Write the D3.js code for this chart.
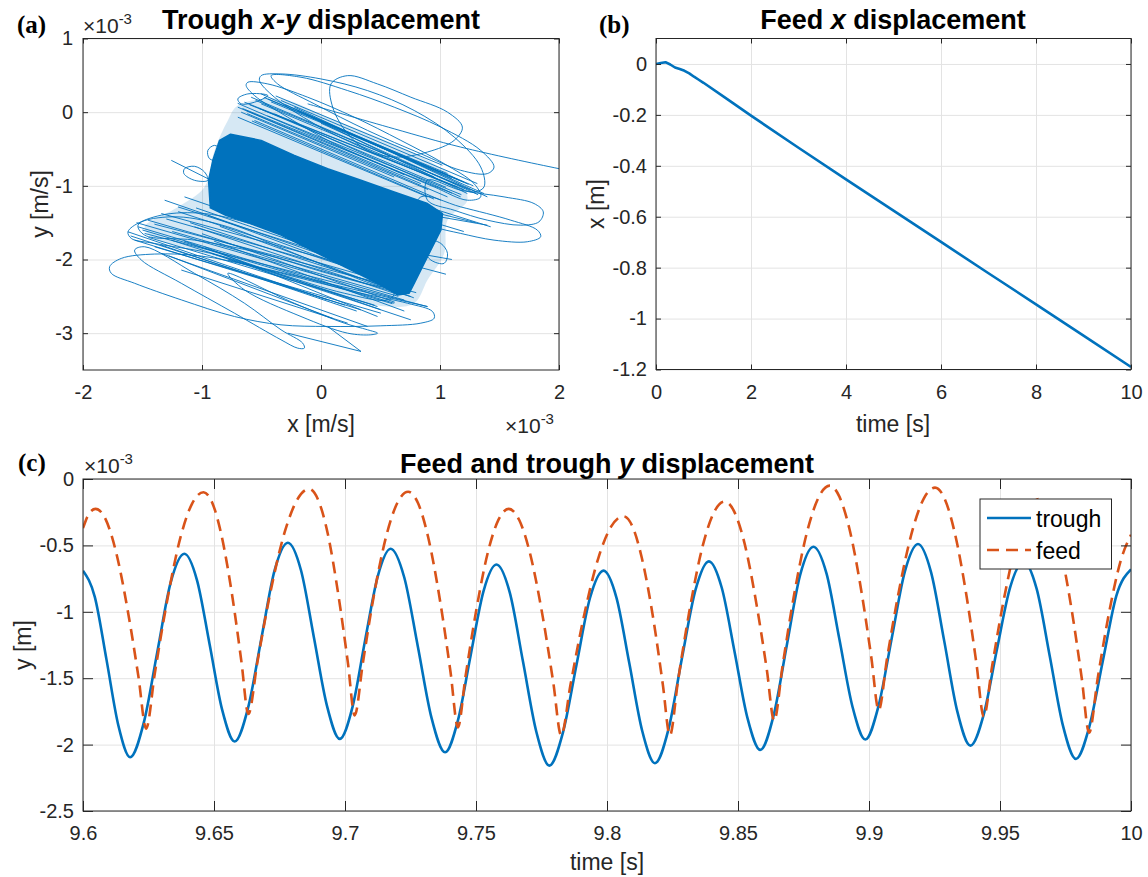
<!DOCTYPE html>
<html><head><meta charset="utf-8">
<script src="https://cdn.jsdelivr.net/npm/d3@7"></script>
<style>
body{margin:0;background:#fff;}
svg{display:block;}
</style></head><body>
<svg id="chart" width="1148" height="877"></svg>
<script>
// ---------------- DATA ----------------
// Panel (a): trough x-y trajectory (units 1e-3 m/s)
const aXTicks = [-2, -1, 0, 1, 2];
const aXTickLabels = ["-2", "-1", "0", "1", "2"];
const aYTicks = [-3, -2, -1, 0, 1];
const aYTickLabels = ["-3", "-2", "-1", "0", "1"];

// saturated (solid) core of the trajectory cloud
const xyCore = [[-0.853,-0.383],[-0.760,-0.300],[-0.503,-0.383],[-0.224,-0.586],[0.056,-0.767],[0.336,-0.925],[0.615,-1.083],[0.895,-1.240],[1.021,-1.376],[1.007,-1.601],[0.937,-1.827],[0.853,-2.097],[0.783,-2.323],[0.741,-2.458],[0.643,-2.481],[0.503,-2.346],[0.224,-2.120],[-0.056,-1.894],[-0.336,-1.669],[-0.615,-1.500],[-0.800,-1.400],[-0.930,-1.300],[-0.945,-0.925],[-0.909,-0.654]];
// half-dense hatched band around the core
const xyHatchZone = [[-0.699,0.090],[-0.336,0.180],[0.056,-0.068],[0.475,-0.338],[0.895,-0.654],[1.174,-0.970],[1.230,-1.195],[1.063,-1.466],[1.035,-1.917],[0.895,-2.278],[0.783,-2.594],[0.559,-2.639],[0.056,-2.458],[-0.503,-2.143],[-1.063,-1.872],[-1.426,-1.691],[-1.482,-1.556],[-1.202,-1.286],[-0.979,-1.015],[-0.895,-0.519],[-0.783,-0.113]];
// individual streaks [x1, y1, x2, y2]
const xyStreaks = [
 [-0.699,0.068,1.063,-1.150],[-0.643,0.135,1.146,-1.015],[-0.587,0.203,1.258,-1.060],[-0.503,0.248,1.370,-1.105],
 [-0.699,-0.068,0.895,-1.150],[-0.447,0.180,1.063,-0.834],[-0.336,0.158,1.314,-0.970],[-0.671,0,0.615,-0.880],
 [-0.224,0.068,1.398,-1.150],[-0.559,-0.113,1.007,-1.195],[-1.538,-1.556,0.615,-2.594],[-1.454,-1.466,0.755,-2.503],
 [-1.342,-1.376,0.783,-2.323],[-1.202,-1.286,0.559,-2.188],[-1.566,-1.737,0.336,-2.684],[-1.398,-1.827,0.503,-2.729],
 [-1.314,-1.195,0.056,-1.962],[-1.147,-1.150,-0.084,-1.737],[-1.482,-1.646,0.895,-2.639],[-1.063,-1.556,0.615,-2.458],
 [-1.622,-1.624,0.056,-2.548],[-0.979,-1.827,0.475,-2.774],[-1.174,-2.143,0.224,-2.864],[-1.342,-1.917,0.391,-2.909],
 [0.895,-1.286,1.426,-1.556],[0.839,-1.376,1.398,-1.534],[-0.629,0.023,0.839,-0.970],[-0.503,0.113,0.951,-0.880],
 [-0.391,-0.023,1.174,-1.150],[-0.084,-0.068,1.230,-1.105],[-0.923,-1.917,0.755,-2.819],[-0.783,-2.007,0.895,-2.639],
 [-1.258,-1.737,0.475,-2.639],
 [-0.66,0.05,1.10,-1.10],[-0.60,0.10,1.20,-1.05],[-0.55,0.16,1.30,-1.08],[-0.48,0.20,1.24,-0.98],
 [-0.42,0.14,1.16,-0.92],[-0.38,0.22,1.02,-0.72],[-0.30,0.10,1.28,-1.00],[-0.20,0.02,1.10,-0.90],
 [-0.62,-0.02,0.90,-1.05],[-0.70,0.12,0.70,-0.85],[-0.52,0.05,1.05,-1.02],[-0.45,-0.05,1.18,-1.12],
 [-0.58,-0.12,0.95,-1.18],[-0.10,-0.05,1.20,-0.95],[0.00,-0.15,1.32,-1.12],
 [-1.55,-1.50,0.70,-2.55],[-1.50,-1.60,0.60,-2.60],[-1.45,-1.70,0.45,-2.62],[-1.40,-1.52,0.80,-2.45],
 [-1.30,-1.45,0.75,-2.40],[-1.25,-1.62,0.65,-2.50],[-1.20,-1.35,0.50,-2.25],[-1.10,-1.50,0.70,-2.45],
 [-1.05,-1.30,0.40,-2.10],[-1.00,-1.65,0.62,-2.58],[-0.95,-1.40,0.55,-2.30],[-1.35,-1.80,0.30,-2.70],
 [-1.15,-1.75,0.50,-2.68],[-0.90,-1.75,0.70,-2.70],[-1.60,-1.68,0.20,-2.62],[-1.28,-1.95,0.10,-2.80],
 [-0.85,-1.55,0.78,-2.52],
 [0.80,-1.30,1.30,-1.50],[0.85,-1.45,1.20,-1.62],[0.70,-2.05,1.05,-2.20],[0.75,-1.90,1.10,-2.00]
];
// visible closed loops
const xyLoops = [
 [[0.084,0.383],[0.224,0.496],[0.475,0.383],[0.755,0.203],[1.063,0],[1.188,-0.203],[1.119,-0.383],[0.895,-0.541],[0.615,-0.609],[0.391,-0.519],[0.224,-0.293],[0.098,0.068]],
 [[-0.503,0.496],[-0.336,0.519],[0,0.451],[0.391,0.293],[0.783,0.023],[1.119,-0.338],[1.342,-0.744],[1.370,-1.015],[1.286,-1.083],[1.063,-0.970],[0.727,-0.744],[0.336,-0.474],[-0.056,-0.158],[-0.391,0.203],[-0.517,0.429]],
 [[-0.615,0.406],[-0.447,0.383],[-0.112,0.203],[0.280,-0.068],[0.671,-0.383],[1.035,-0.699],[1.286,-0.970],[1.342,-1.150],[1.230,-1.195],[0.951,-1.015],[0.559,-0.744],[0.112,-0.429],[-0.280,-0.068],[-0.559,0.226],[-0.629,0.361]],
 [[-0.419,0.496],[-0.168,0.474],[0.224,0.293],[0.615,0.068],[1.007,-0.203],[1.342,-0.519],[1.454,-0.744],[1.398,-0.834],[1.174,-0.789],[0.839,-0.564],[0.391,-0.248],[-0.056,0.113],[-0.364,0.383]],
 [[0.895,-0.925],[1.174,-1.060],[1.538,-1.150],[1.790,-1.240],[1.868,-1.353],[1.832,-1.488],[1.678,-1.534],[1.398,-1.466],[1.119,-1.331],[0.895,-1.195]],
 [[0.839,-1.150],[1.174,-1.286],[1.594,-1.466],[1.818,-1.601],[1.846,-1.691],[1.734,-1.759],[1.454,-1.737],[1.174,-1.646],[0.951,-1.556],[0.783,-1.421]],
 [[-1.776,-2.097],[-1.678,-1.985],[-1.398,-1.926],[-1.007,-1.953],[-0.559,-2.097],[-0.112,-2.278],[0.336,-2.458],[0.727,-2.594],[0.937,-2.706],[0.951,-2.797],[0.839,-2.864],[0.503,-2.900],[0.056,-2.909],[-0.336,-2.887],[-0.727,-2.774],[-1.174,-2.548],[-1.566,-2.323],[-1.762,-2.188]],
 [[-1.482,-1.827],[-1.063,-2.188],[-0.643,-2.594],[-0.336,-2.954],[-0.154,-3.135],[-0.140,-3.203],[-0.196,-3.203],[-0.336,-3.090],[-0.727,-2.729],[-1.174,-2.323],[-1.510,-2.007],[-1.566,-1.872]],
 [[-0.783,-2.188],[-0.224,-2.594],[0.196,-2.864],[0.391,-2.954],[0.475,-3.000],[0.419,-3.022],[0.224,-3.000],[-0.168,-2.774],[-0.643,-2.413]],
 [[-1.622,-1.624],[-1.510,-1.488],[-1.202,-1.421],[-0.783,-1.556],[-0.224,-1.917],[0.336,-2.278],[0.615,-2.458],[0.559,-2.548],[0.196,-2.458],[-0.364,-2.188],[-0.923,-1.917],[-1.398,-1.782],[-1.594,-1.714]],
 [[-1.538,-1.534],[-1.342,-1.398],[-0.979,-1.376],[-0.503,-1.556],[0.056,-1.872],[0.559,-2.188],[0.671,-2.368],[0.503,-2.368],[0.056,-2.188],[-0.503,-1.917],[-1.063,-1.737],[-1.482,-1.669]],
 [[-0.951,-0.519],[-0.895,-0.451],[-0.839,-0.519],[-0.867,-0.654],[-0.937,-0.631]],
 [[-1.147,-0.767],[-1.063,-0.735],[-0.979,-0.812],[-0.951,-0.925],[-1.063,-0.925],[-1.152,-0.834]],
 [[0.895,-1.737],[1.007,-1.782],[1.063,-1.917],[1.035,-2.052],[0.923,-2.007],[0.867,-1.872]],
 [[-0.699,0.180],[-0.615,0.248],[-0.447,0.226],[-0.559,0.135],[-0.671,0.113]]
];
// open tails
const xyTails = [
 [[-0.112,0.113],[0.615,-0.226],[1.174,-0.474],[2.0,-0.767],[2.293,-0.857]],
 [[-1.258,-0.654],[-0.923,-0.925]],
 [[-0.280,-3.000],[0.336,-3.248]],
 [[0.056,-2.909],[0.336,-3.248]]
];

// Panel (b): feed x displacement
const bXTicks = [0, 2, 4, 6, 8, 10];
const bXTickLabels = ["0", "2", "4", "6", "8", "10"];
const bYTicks = [-1.2, -1, -0.8, -0.6, -0.4, -0.2, 0];
const bYTickLabels = ["-1.2", "-1", "-0.8", "-0.6", "-0.4", "-0.2", "0"];
const feedXTime = [0, 0.1, 0.2, 0.3, 0.4, 0.5, 0.6, 0.7, 0.8, 0.9, 1.0, 1.5, 2, 3, 4, 5, 6, 7, 8, 9, 10];
const feedXDisp = [0, 0.004, 0.007, -0.002, -0.014, -0.02, -0.027, -0.037, -0.05, -0.062, -0.074, -0.138, -0.203, -0.329, -0.453, -0.576, -0.699, -0.822, -0.944, -1.067, -1.19];

// Panel (c): y displacement (units 1e-3 m)
const cXTicks = [9.6, 9.65, 9.7, 9.75, 9.8, 9.85, 9.9, 9.95, 10];
const cXTickLabels = ["9.6", "9.65", "9.7", "9.75", "9.8", "9.85", "9.9", "9.95", "10"];
const cYTicks = [-2.5, -2, -1.5, -1, -0.5, 0];
const cYTickLabels = ["-2.5", "-2", "-1.5", "-1", "-0.5", "0"];
const seriesNames = ["trough", "feed"];
const troughT = [9.6,9.6045,9.609,9.6135,9.618,9.6232,9.6284,9.6335,9.6387,9.6435,9.6483,9.6531,9.6579,9.6630,9.6681,9.6731,9.6782,9.6832,9.6881,9.6931,9.698,9.7029,9.7077,9.7126,9.7174,9.7226,9.7278,9.7330,9.7382,9.7431,9.7480,9.7529,9.7578,9.7629,9.7679,9.7730,9.778,9.7832,9.7884,9.7935,9.7987,9.8036,9.8085,9.8134,9.8183,9.8235,9.8286,9.8338,9.8389,9.8438,9.8487,9.8536,9.8585,9.8636,9.8687,9.8737,9.8788,9.8838,9.8887,9.8937,9.8986,9.9036,9.9087,9.9137,9.9187,9.9237,9.9287,9.9337,9.9387,9.9438,9.9488,9.9539,9.959,9.9640,9.9690,9.9740,9.979,9.9841,9.9893,9.9944,10.0];
const troughY = [-0.69,-0.887,-1.364,-1.856,-2.095,-1.835,-1.298,-0.777,-0.563,-0.761,-1.242,-1.737,-1.977,-1.723,-1.199,-0.690,-0.48,-0.687,-1.189,-1.706,-1.957,-1.714,-1.212,-0.725,-0.525,-0.740,-1.261,-1.797,-2.058,-1.818,-1.323,-0.842,-0.644,-0.856,-1.371,-1.901,-2.158,-1.908,-1.395,-0.896,-0.69,-0.893,-1.386,-1.894,-2.14,-1.882,-1.350,-0.833,-0.62,-0.819,-1.302,-1.799,-2.04,-1.780,-1.244,-0.724,-0.51,-0.713,-1.207,-1.715,-1.962,-1.712,-1.197,-0.696,-0.49,-0.703,-1.219,-1.750,-2.008,-1.772,-1.286,-0.814,-0.62,-0.828,-1.334,-1.855,-2.108,-1.865,-1.365,-0.880,-0.68];
const feedT = [9.6,9.6025,9.6048,9.6087,9.6125,9.6173,9.6212,9.6241,9.6274,9.6318,9.6372,9.6416,9.6460,9.6494,9.6528,9.6571,9.6605,9.6631,9.6666,9.6712,9.6770,9.6817,9.6863,9.6898,9.6933,9.6976,9.7011,9.7037,9.7068,9.7108,9.7159,9.7200,9.7241,9.7279,9.7317,9.7365,9.7403,9.7431,9.7460,9.7499,9.7547,9.7586,9.7625,9.7665,9.7705,9.7755,9.7795,9.7825,9.7861,9.7908,9.7967,9.8015,9.8062,9.8098,9.8133,9.8178,9.8213,9.8240,9.8271,9.8313,9.8365,9.8407,9.8449,9.8487,9.8525,9.8572,9.8610,9.8638,9.8670,9.8712,9.8765,9.8808,9.8850,9.8887,9.8925,9.8972,9.9009,9.9037,9.9069,9.9112,9.9166,9.9209,9.9252,9.9289,9.9326,9.9373,9.9410,9.9438,9.9470,9.9512,9.9565,9.9608,9.9650,9.9688,9.9726,9.9774,9.9812,9.9840,9.9873,9.9917,9.9960,10.0];
const feedY = [-0.37,-0.255,-0.225,-0.306,-0.541,-1.016,-1.494,-1.88,-1.465,-0.951,-0.440,-0.187,-0.10,-0.182,-0.419,-0.898,-1.381,-1.77,-1.375,-0.885,-0.399,-0.158,-0.075,-0.159,-0.401,-0.890,-1.383,-1.78,-1.388,-0.901,-0.418,-0.179,-0.096,-0.183,-0.435,-0.944,-1.457,-1.87,-1.487,-1.011,-0.539,-0.306,-0.225,-0.309,-0.551,-1.040,-1.533,-1.93,-1.546,-1.069,-0.595,-0.361,-0.28,-0.361,-0.595,-1.069,-1.546,-1.93,-1.520,-1.011,-0.506,-0.256,-0.17,-0.251,-0.485,-0.959,-1.436,-1.82,-1.408,-0.896,-0.388,-0.137,-0.05,-0.133,-0.373,-0.858,-1.346,-1.74,-1.350,-0.866,-0.385,-0.147,-0.065,-0.150,-0.394,-0.890,-1.388,-1.79,-1.408,-0.934,-0.463,-0.230,-0.15,-0.236,-0.486,-0.991,-1.500,-1.91,-1.50,-1.00,-0.62,-0.42];

// ---------------- DRAWING ----------------
const W = 1148, H = 877;
const BLUE = "#0072BD", ORANGE = "#D95319", INK = "#262626", GRID = "#e3e3e3";
const FONT = "'Liberation Sans', Arial, Helvetica, sans-serif";
const SERIF = "'Liberation Serif', 'Times New Roman', serif";
const svg = d3.select("#chart");
svg.append("rect").attr("width", W).attr("height", H).attr("fill", "#fff");
const defs = svg.append("defs");

function makePanel(o) {
  const x = d3.scaleLinear().domain(o.xDomain).range([o.left, o.right]);
  const y = d3.scaleLinear().domain(o.yDomain).range([o.bottom, o.top]);
  const w = o.right - o.left, h = o.bottom - o.top;
  const gridG = svg.append("g");
  gridG.append("g").attr("transform", `translate(0,${o.bottom})`)
    .call(d3.axisBottom(x).tickValues(o.xTicks).tickSize(-h).tickFormat(""))
    .call(s => { s.select(".domain").remove(); s.selectAll("line").attr("stroke", GRID).attr("stroke-width", 1); });
  gridG.append("g").attr("transform", `translate(${o.left},0)`)
    .call(d3.axisLeft(y).tickValues(o.yTicks).tickSize(-w).tickFormat(""))
    .call(s => { s.select(".domain").remove(); s.selectAll("line").attr("stroke", GRID).attr("stroke-width", 1); });
  defs.append("clipPath").attr("id", "clip-" + o.id).append("rect")
    .attr("x", o.left).attr("y", o.top).attr("width", w).attr("height", h);
  const plot = svg.append("g").attr("clip-path", `url(#clip-${o.id})`);
  function finish() {
    const tl = o.tickLen;
    const st = s => {
      s.attr("font-family", FONT).attr("font-size", 20);
      s.select(".domain").remove();
      s.selectAll(".tick line").attr("stroke", INK).attr("stroke-width", 1);
      s.selectAll(".tick text").attr("fill", INK);
    };
    svg.append("g").attr("transform", `translate(0,${o.bottom})`)
      .call(d3.axisBottom(x).tickValues(o.xTicks).tickFormat((d, i) => o.xLabels[i]).tickSizeInner(-tl).tickSizeOuter(0).tickPadding(15)).call(st);
    svg.append("g").attr("transform", `translate(0,${o.top})`)
      .call(d3.axisTop(x).tickValues(o.xTicks).tickFormat("").tickSizeInner(-tl).tickSizeOuter(0)).call(st);
    svg.append("g").attr("transform", `translate(${o.left},0)`)
      .call(d3.axisLeft(y).tickValues(o.yTicks).tickFormat((d, i) => o.yLabels[i]).tickSizeInner(-tl).tickSizeOuter(0).tickPadding(o.yPad)).call(st);
    svg.append("g").attr("transform", `translate(${o.right},0)`)
      .call(d3.axisRight(y).tickValues(o.yTicks).tickFormat("").tickSizeInner(-tl).tickSizeOuter(0)).call(st);
    svg.append("rect").attr("x", o.left).attr("y", o.top).attr("width", w).attr("height", h)
      .attr("fill", "none").attr("stroke", INK).attr("stroke-width", 1);
  }
  return { x, y, plot, finish };
}

function title(cx, by, parts) {
  const t = svg.append("text").attr("x", cx).attr("y", by).attr("text-anchor", "middle")
    .attr("font-family", FONT).attr("font-weight", "bold").attr("font-size", 27).attr("fill", "#000");
  parts.forEach(p => t.append("tspan").attr("font-style", p[1] ? "italic" : "normal").text(p[0]));
}
function axLabel(x, y, txt, rot) {
  svg.append("text").attr("transform", `translate(${x},${y})` + (rot ? " rotate(-90)" : ""))
    .attr("text-anchor", "middle").attr("font-family", FONT).attr("font-size", 23).attr("fill", INK).text(txt);
}
function expLabel(x, y) {
  const t = svg.append("text").attr("x", x).attr("y", y).attr("font-family", FONT).attr("font-size", 21).attr("fill", INK);
  t.append("tspan").text("×10");
  t.append("tspan").attr("font-size", 15).attr("dy", -9).text("-3");
}
function panelTag(x, y, txt) {
  svg.append("text").attr("x", x).attr("y", y).attr("font-family", SERIF).attr("font-weight", "bold")
    .attr("font-size", 25).attr("fill", "#000").text(txt);
}

// ----- Panel (a)
const A = makePanel({ id: "a", left: 83, right: 559, top: 38.5, bottom: 370, xDomain: [-2, 2], yDomain: [-3.5, 1],
  xTicks: aXTicks, xLabels: aXTickLabels, yTicks: aYTicks, yLabels: aYTickLabels, tickLen: 5, yPad: 10 });
const la = d3.line().x(d => A.x(d[0])).y(d => A.y(d[1]));
A.plot.append("path").attr("d", la.curve(d3.curveCatmullRomClosed.alpha(0.5))(xyHatchZone))
  .attr("fill", BLUE).attr("fill-opacity", 0.16).attr("stroke", "none");
A.plot.selectAll("line.streak").data(xyStreaks).join("line").attr("class", "streak")
  .attr("x1", d => A.x(d[0])).attr("y1", d => A.y(d[1])).attr("x2", d => A.x(d[2])).attr("y2", d => A.y(d[3]))
  .attr("stroke", BLUE).attr("stroke-width", 0.9);
A.plot.selectAll("path.loop").data(xyLoops).join("path").attr("class", "loop")
  .attr("d", d => la.curve(d3.curveCatmullRomClosed.alpha(0.5))(d))
  .attr("fill", "none").attr("stroke", BLUE).attr("stroke-width", 0.9);
A.plot.selectAll("path.tail").data(xyTails).join("path").attr("class", "tail")
  .attr("d", d => la.curve(d3.curveCatmullRom.alpha(0.5))(d))
  .attr("fill", "none").attr("stroke", BLUE).attr("stroke-width", 0.9);
A.plot.append("path").attr("d", la.curve(d3.curveLinearClosed)(xyCore))
  .attr("fill", BLUE).attr("stroke", BLUE).attr("stroke-width", 1.5).attr("stroke-linejoin", "round");
A.finish();
title(321, 29, [["Trough ", false], ["x-y", true], [" displacement", false]]);
expLabel(83, 33);
expLabel(505, 433);
axLabel(321, 432, "x [m/s]", false);
axLabel(48, 204, "y [m/s]", true);
panelTag(17, 33, "(a)");

// ----- Panel (b)
const B = makePanel({ id: "b", left: 656, right: 1131, top: 38.5, bottom: 369.5, xDomain: [0, 10], yDomain: [-1.2, 0.1],
  xTicks: bXTicks, xLabels: bXTickLabels, yTicks: bYTicks, yLabels: bYTickLabels, tickLen: 5, yPad: 9 });
B.plot.append("path").datum(d3.range(feedXTime.length))
  .attr("d", d3.line().x(i => B.x(feedXTime[i])).y(i => B.y(feedXDisp[i])))
  .attr("fill", "none").attr("stroke", BLUE).attr("stroke-width", 2.6).attr("stroke-linejoin", "round");
B.finish();
title(893, 29, [["Feed ", false], ["x", true], [" displacement", false]]);
axLabel(893, 432, "time [s]", false);
axLabel(604, 204, "x [m]", true);
panelTag(599, 33, "(b)");

// ----- Panel (c)
const C = makePanel({ id: "c", left: 83, right: 1131, top: 479, bottom: 811, xDomain: [9.6, 10], yDomain: [-2.5, 0],
  xTicks: cXTicks, xLabels: cXTickLabels, yTicks: cYTicks, yLabels: cYTickLabels, tickLen: 10, yPad: 9 });
C.plot.append("path").datum(d3.range(troughT.length))
  .attr("d", d3.line().x(i => C.x(troughT[i])).y(i => C.y(troughY[i])).curve(d3.curveMonotoneX))
  .attr("fill", "none").attr("stroke", BLUE).attr("stroke-width", 2.6);
C.plot.append("path").datum(d3.range(feedT.length))
  .attr("d", d3.line().x(i => C.x(feedT[i])).y(i => C.y(feedY[i])).curve(d3.curveMonotoneX))
  .attr("fill", "none").attr("stroke", ORANGE).attr("stroke-width", 2.6).attr("stroke-dasharray", "12,7");
C.finish();
title(607, 473, [["Feed and trough ", false], ["y", true], [" displacement", false]]);
expLabel(84, 473);
axLabel(607, 870, "time [s]", false);
axLabel(31, 645, "y [m]", true);
panelTag(18, 471, "(c)");

// legend
const lg = svg.append("g");
lg.append("rect").attr("x", 980).attr("y", 499).attr("width", 131.5).attr("height", 70)
  .attr("fill", "#fff").attr("stroke", INK).attr("stroke-width", 1);
const legStyles = [{ c: BLUE, dash: null, y: 518 }, { c: ORANGE, dash: "12,7", y: 550 }];
seriesNames.forEach((name, i) => {
  const s = legStyles[i];
  lg.append("line").attr("x1", 987).attr("x2", 1031).attr("y1", s.y).attr("y2", s.y)
    .attr("stroke", s.c).attr("stroke-width", 2.6).attr("stroke-dasharray", s.dash);
  lg.append("text").attr("x", 1036).attr("y", s.y + 8.5).attr("font-family", FONT).attr("font-size", 23)
    .attr("fill", "#000").text(name);
});
</script>
</body></html>
